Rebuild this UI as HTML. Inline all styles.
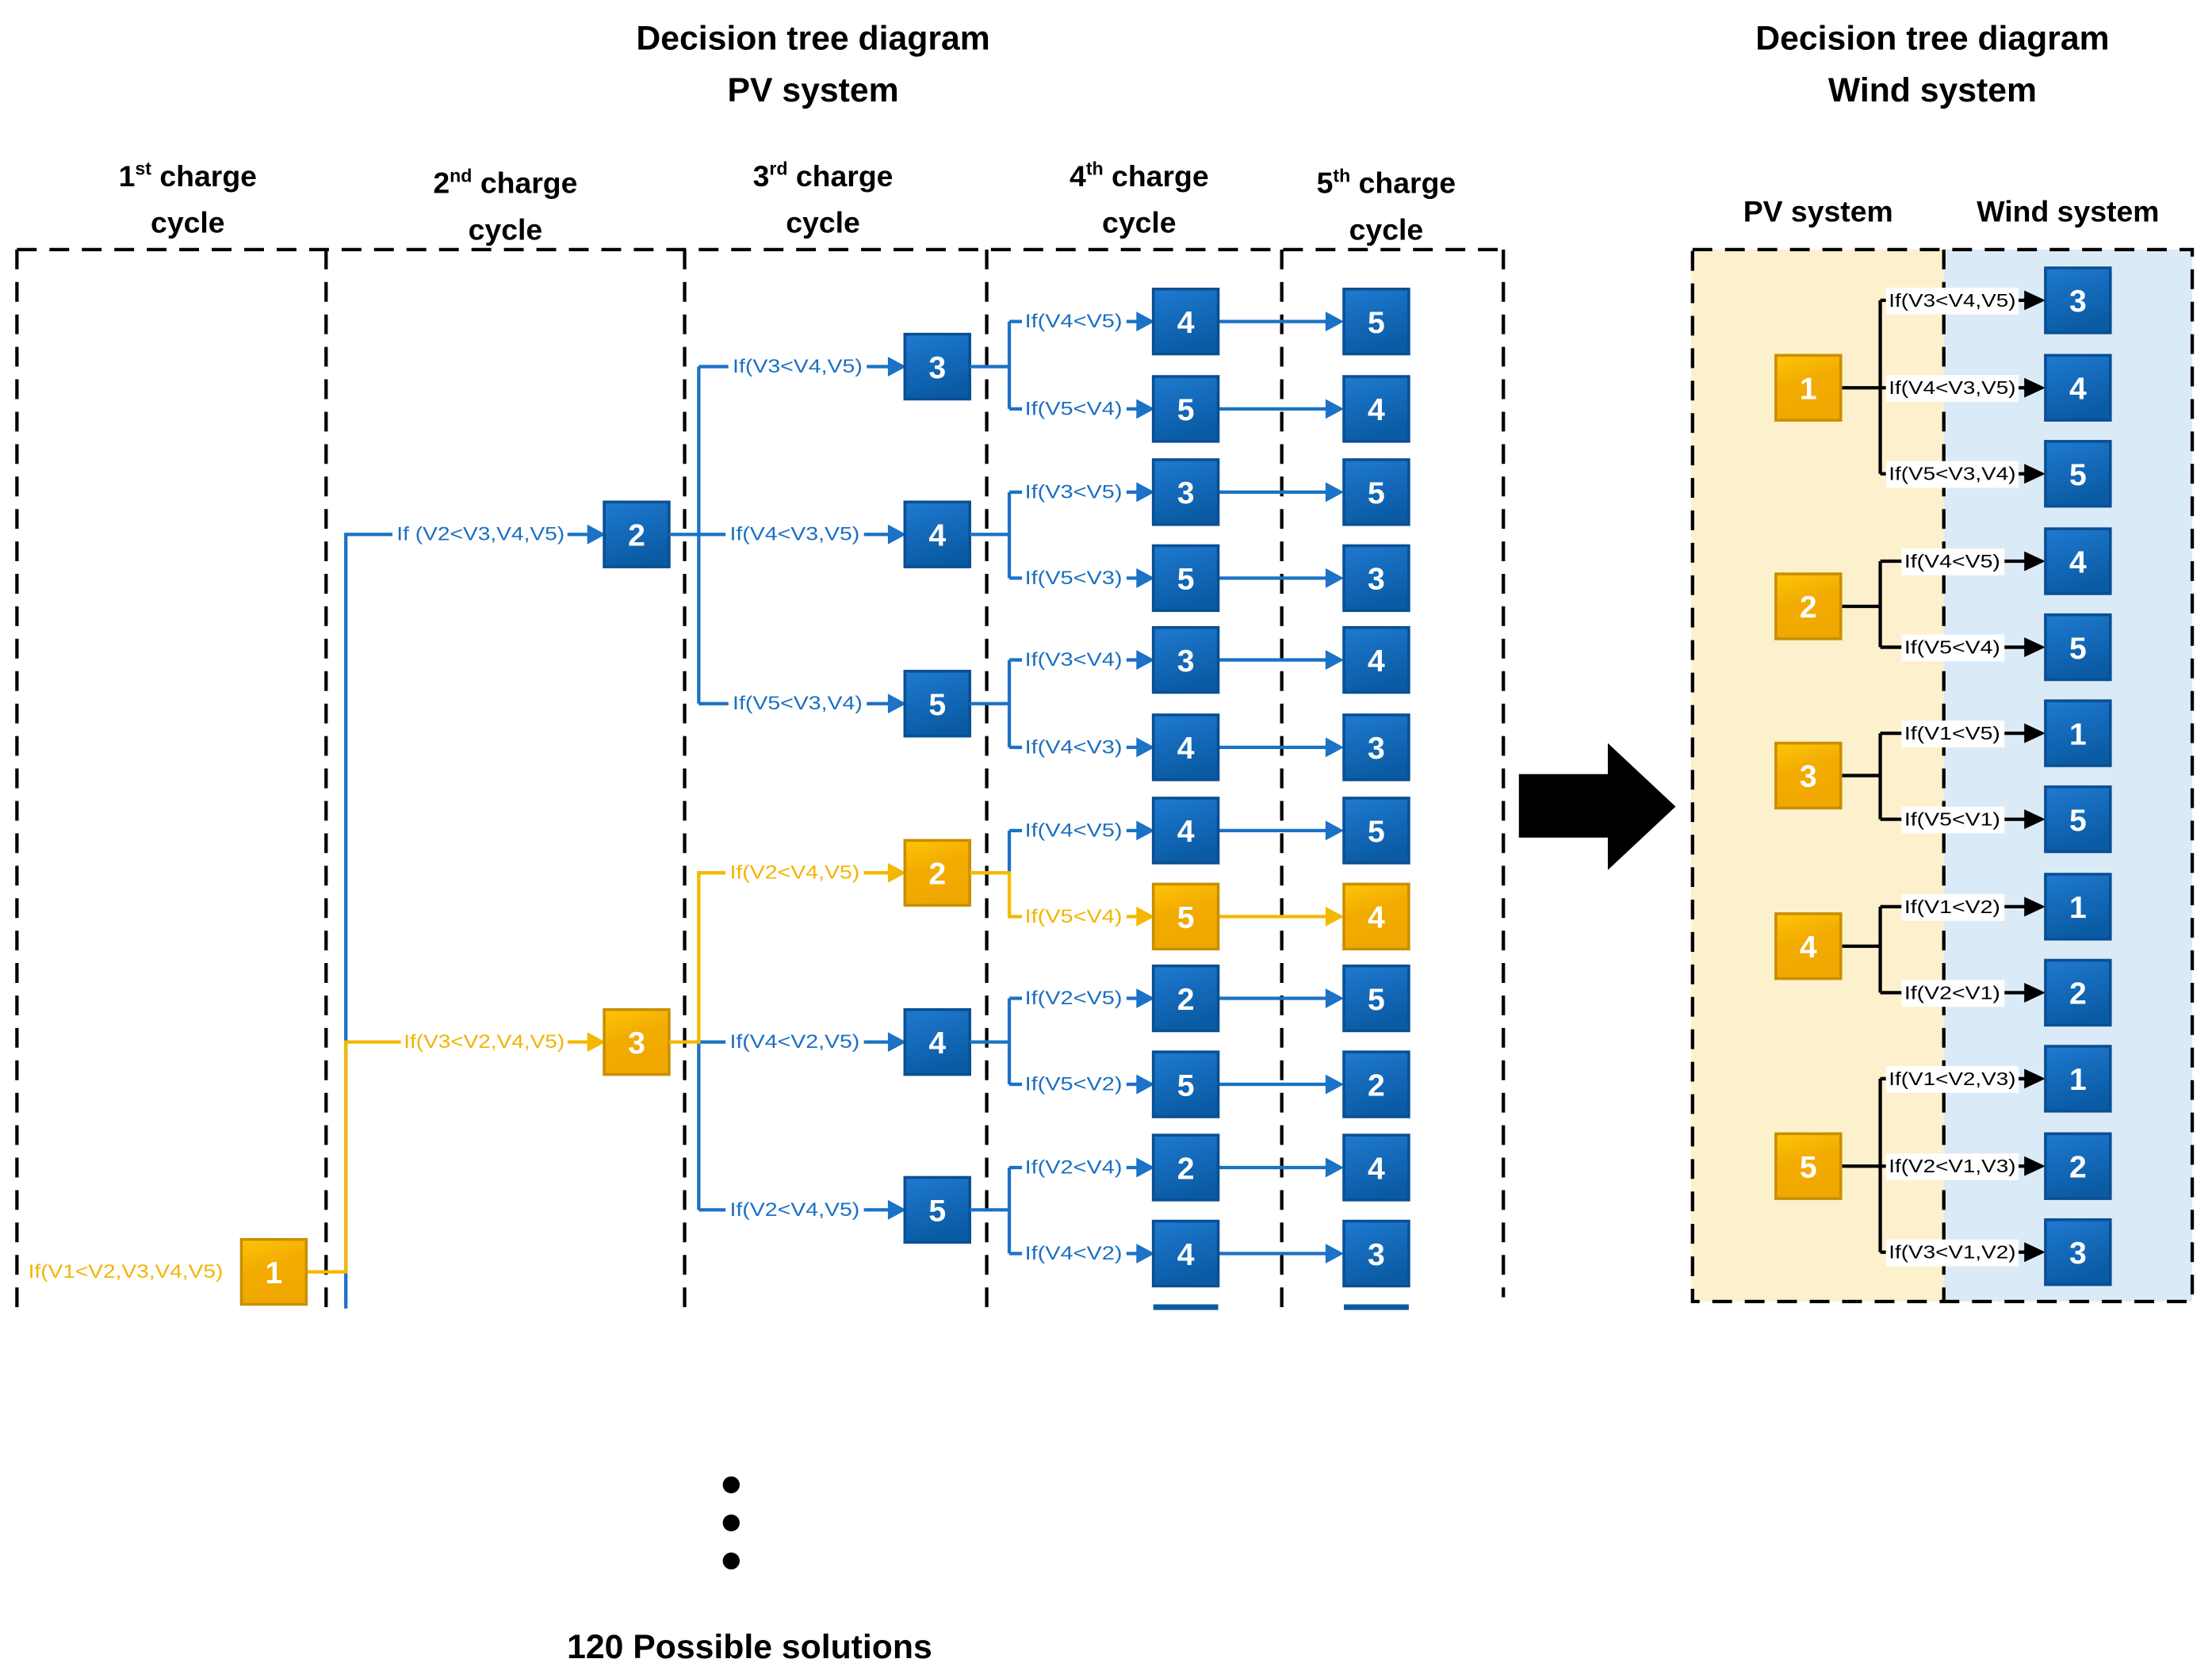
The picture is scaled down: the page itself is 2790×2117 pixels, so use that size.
<!DOCTYPE html>
<html><head><meta charset="utf-8"><style>
html,body{margin:0;padding:0;background:#fff;}
svg{display:block;}
text{font-family:"Liberation Sans",sans-serif;}
.t{font-weight:bold;font-size:24px;fill:#000;text-anchor:middle;}
.h{font-weight:bold;font-size:21px;fill:#000;text-anchor:middle;}
.n{font-weight:bold;font-size:22px;fill:#fff;text-anchor:middle;dominant-baseline:central;}
.lb{font-size:13.5px;fill:#1b6fc2;dominant-baseline:central;}
.lo{font-size:13.5px;fill:#f3b400;dominant-baseline:central;}
.lk{font-size:13px;fill:#000;dominant-baseline:central;}
.bl{stroke:#1b72c6;stroke-width:2.4;fill:none;}
.ol{stroke:#f5b800;stroke-width:2.4;fill:none;}
.kl{stroke:#000;stroke-width:2.4;fill:none;}
.d{stroke:#000;stroke-width:2.4;stroke-dasharray:14,9;fill:none;}
</style></head><body>
<svg width="2790" height="2117" viewBox="0 0 1567 1190" preserveAspectRatio="none" xmlns="http://www.w3.org/2000/svg">
<defs>
<linearGradient id="gb" x1="0" y1="0" x2="0.3" y2="1"><stop offset="0" stop-color="#1f7ad0"/><stop offset="1" stop-color="#0a5ba4"/></linearGradient>
<linearGradient id="go" x1="0" y1="0" x2="0.3" y2="1"><stop offset="0" stop-color="#ffc408"/><stop offset="0.5" stop-color="#f2ab00"/><stop offset="1" stop-color="#f0a800"/></linearGradient>
<g id="B"><rect x="0" y="0" width="46" height="46" fill="url(#gb)" stroke="#0a4f94" stroke-width="2"/></g>
<g id="O"><rect x="0" y="0" width="46" height="46" fill="url(#go)" stroke="#c88f00" stroke-width="2"/></g>
</defs>

<text class="t" x="576" y="35">Decision tree diagram</text>
<text class="t" x="576" y="72">PV system</text>
<text class="t" x="1369" y="35">Decision tree diagram</text>
<text class="t" x="1369" y="72">Wind system</text>

<text class="h" x="133" y="132">1<tspan font-size="13" dy="-8">st</tspan><tspan dy="8"> charge</tspan></text>
<text class="h" x="133" y="165">cycle</text>
<text class="h" x="358" y="137">2<tspan font-size="13" dy="-8">nd</tspan><tspan dy="8"> charge</tspan></text>
<text class="h" x="358" y="170">cycle</text>
<text class="h" x="583" y="132">3<tspan font-size="13" dy="-8">rd</tspan><tspan dy="8"> charge</tspan></text>
<text class="h" x="583" y="165">cycle</text>
<text class="h" x="807" y="132">4<tspan font-size="13" dy="-8">th</tspan><tspan dy="8"> charge</tspan></text>
<text class="h" x="807" y="165">cycle</text>
<text class="h" x="982" y="137">5<tspan font-size="13" dy="-8">th</tspan><tspan dy="8"> charge</tspan></text>
<text class="h" x="982" y="170">cycle</text>

<path class="d" d="M12,177 H1065"/>
<path class="d" d="M12,177 V928 M231,177 V928 M485,177 V928 M699,177 V928 M908,177 V928 M1065,177 V920"/>

<path class="bl" d="M245,928 V379 H422"/>
<path class="ol" d="M216,902 H245 V739 H422"/>
<polygon points="416,372 429,379 416,386" fill="#1b72c6"/>
<polygon points="416,732 429,739 416,746" fill="#f5b800"/>
<rect x="278" y="370" width="124" height="18" fill="#fff"/>
<text class="lb" x="281" y="379" textLength="119" lengthAdjust="spacingAndGlyphs">If (V2&lt;V3,V4,V5)</text>
<rect x="284" y="730" width="118" height="18" fill="#fff"/>
<text class="lo" x="286" y="739" textLength="114" lengthAdjust="spacingAndGlyphs">If(V3&lt;V2,V4,V5)</text>
<text class="lo" x="20" y="902" textLength="138" lengthAdjust="spacingAndGlyphs">If(V1&lt;V2,V3,V4,V5)</text>

<use href="#B" x="428" y="356"/><text class="n" x="451" y="380" font-weight="normal">2</text>
<use href="#O" x="428" y="716"/><text class="n" x="451" y="740" font-weight="normal">3</text>
<use href="#O" x="171" y="879"/><text class="n" x="194" y="903">1</text>

<path class="bl" d="M474,379 H495 M495,260 V499 M495,260 H635 M495,379 H635 M495,499 H635"/>
<polygon points="629,253 642,260 629,267" fill="#1b72c6"/>
<polygon points="629,372 642,379 629,386" fill="#1b72c6"/>
<polygon points="629,492 642,499 629,506" fill="#1b72c6"/>
<rect x="516" y="251" width="98" height="18" fill="#fff"/><text class="lb" x="519" y="260" textLength="92" lengthAdjust="spacingAndGlyphs">If(V3&lt;V4,V5)</text>
<rect x="514" y="370" width="98" height="18" fill="#fff"/><text class="lb" x="517" y="379" textLength="92" lengthAdjust="spacingAndGlyphs">If(V4&lt;V3,V5)</text>
<rect x="516" y="490" width="98" height="18" fill="#fff"/><text class="lb" x="519" y="499" textLength="92" lengthAdjust="spacingAndGlyphs">If(V5&lt;V3,V4)</text>

<path class="bl" d="M495,739 V858 M495,739 H635 M495,858 H635"/>
<path class="ol" d="M474,739 H495 V619 H635"/>
<polygon points="629,612 642,619 629,626" fill="#f5b800"/>
<polygon points="629,732 642,739 629,746" fill="#1b72c6"/>
<polygon points="629,851 642,858 629,865" fill="#1b72c6"/>
<rect x="514" y="610" width="98" height="18" fill="#fff"/><text class="lo" x="517" y="619" textLength="92" lengthAdjust="spacingAndGlyphs">If(V2&lt;V4,V5)</text>
<rect x="514" y="730" width="98" height="18" fill="#fff"/><text class="lb" x="517" y="739" textLength="92" lengthAdjust="spacingAndGlyphs">If(V4&lt;V2,V5)</text>
<rect x="514" y="849" width="98" height="18" fill="#fff"/><text class="lb" x="517" y="858" textLength="92" lengthAdjust="spacingAndGlyphs">If(V2&lt;V4,V5)</text>

<use href="#B" x="641" y="237"/><text class="n" x="664" y="261">3</text>
<use href="#B" x="641" y="356"/><text class="n" x="664" y="380">4</text>
<use href="#B" x="641" y="476"/><text class="n" x="664" y="500">5</text>
<use href="#O" x="641" y="596"/><text class="n" x="664" y="620">2</text>
<use href="#B" x="641" y="716"/><text class="n" x="664" y="740">4</text>
<use href="#B" x="641" y="835"/><text class="n" x="664" y="859">5</text>

<path class="bl" d="M687,260 H715 M715,228 V290
M687,379 H715 M715,349 V410
M687,499 H715 M715,468 V530
M715,589 V619
M687,739 H715 M715,708 V769
M687,858 H715 M715,828 V889
M715,228 H811 M715,290 H811 M715,349 H811 M715,410 H811 M715,468 H811 M715,530 H811 M715,589 H811 M715,708 H811 M715,769 H811 M715,828 H811 M715,889 H811"/>
<path class="ol" d="M687,619 H715 V650 H811"/>
<g fill="#1b72c6">
<polygon points="805,221 818,228 805,235"/><polygon points="805,283 818,290 805,297"/>
<polygon points="805,342 818,349 805,356"/><polygon points="805,403 818,410 805,417"/>
<polygon points="805,461 818,468 805,475"/><polygon points="805,523 818,530 805,537"/>
<polygon points="805,582 818,589 805,596"/>
<polygon points="805,701 818,708 805,715"/><polygon points="805,762 818,769 805,776"/>
<polygon points="805,821 818,828 805,835"/><polygon points="805,882 818,889 805,896"/>
</g>
<polygon points="805,643 818,650 805,657" fill="#f5b800"/>
<g fill="#fff">
<rect x="724" y="219" width="74" height="18"/><rect x="724" y="281" width="74" height="18"/>
<rect x="724" y="340" width="74" height="18"/><rect x="724" y="401" width="74" height="18"/>
<rect x="724" y="459" width="74" height="18"/><rect x="724" y="521" width="74" height="18"/>
<rect x="724" y="580" width="74" height="18"/><rect x="724" y="641" width="74" height="18"/>
<rect x="724" y="699" width="74" height="18"/><rect x="724" y="760" width="74" height="18"/>
<rect x="724" y="819" width="74" height="18"/><rect x="724" y="880" width="74" height="18"/>
</g>
<text class="lb" x="726" y="228" textLength="69" lengthAdjust="spacingAndGlyphs">If(V4&lt;V5)</text>
<text class="lb" x="726" y="290" textLength="69" lengthAdjust="spacingAndGlyphs">If(V5&lt;V4)</text>
<text class="lb" x="726" y="349" textLength="69" lengthAdjust="spacingAndGlyphs">If(V3&lt;V5)</text>
<text class="lb" x="726" y="410" textLength="69" lengthAdjust="spacingAndGlyphs">If(V5&lt;V3)</text>
<text class="lb" x="726" y="468" textLength="69" lengthAdjust="spacingAndGlyphs">If(V3&lt;V4)</text>
<text class="lb" x="726" y="530" textLength="69" lengthAdjust="spacingAndGlyphs">If(V4&lt;V3)</text>
<text class="lb" x="726" y="589" textLength="69" lengthAdjust="spacingAndGlyphs">If(V4&lt;V5)</text>
<text class="lo" x="726" y="650" textLength="69" lengthAdjust="spacingAndGlyphs">If(V5&lt;V4)</text>
<text class="lb" x="726" y="708" textLength="69" lengthAdjust="spacingAndGlyphs">If(V2&lt;V5)</text>
<text class="lb" x="726" y="769" textLength="69" lengthAdjust="spacingAndGlyphs">If(V5&lt;V2)</text>
<text class="lb" x="726" y="828" textLength="69" lengthAdjust="spacingAndGlyphs">If(V2&lt;V4)</text>
<text class="lb" x="726" y="889" textLength="69" lengthAdjust="spacingAndGlyphs">If(V4&lt;V2)</text>

<path class="bl" d="M862,228 H946 M862,290 H946 M862,349 H946 M862,410 H946 M862,468 H946 M862,530 H946 M862,589 H946 M862,708 H946 M862,769 H946 M862,828 H946 M862,889 H946"/>
<path class="ol" d="M862,650 H946"/>
<g fill="#1b72c6">
<polygon points="939,221 952,228 939,235"/><polygon points="939,283 952,290 939,297"/>
<polygon points="939,342 952,349 939,356"/><polygon points="939,403 952,410 939,417"/>
<polygon points="939,461 952,468 939,475"/><polygon points="939,523 952,530 939,537"/>
<polygon points="939,582 952,589 939,596"/>
<polygon points="939,701 952,708 939,715"/><polygon points="939,762 952,769 939,776"/>
<polygon points="939,821 952,828 939,835"/><polygon points="939,882 952,889 939,896"/>
</g>
<polygon points="939,643 952,650 939,657" fill="#f5b800"/>

<use href="#B" x="817" y="205"/><text class="n" x="840" y="229">4</text>
<use href="#B" x="817" y="267"/><text class="n" x="840" y="291">5</text>
<use href="#B" x="817" y="326"/><text class="n" x="840" y="350">3</text>
<use href="#B" x="817" y="387"/><text class="n" x="840" y="411">5</text>
<use href="#B" x="817" y="445"/><text class="n" x="840" y="469">3</text>
<use href="#B" x="817" y="507"/><text class="n" x="840" y="531">4</text>
<use href="#B" x="817" y="566"/><text class="n" x="840" y="590">4</text>
<use href="#O" x="817" y="627"/><text class="n" x="840" y="651">5</text>
<use href="#B" x="817" y="685"/><text class="n" x="840" y="709">2</text>
<use href="#B" x="817" y="746"/><text class="n" x="840" y="770">5</text>
<use href="#B" x="817" y="805"/><text class="n" x="840" y="829">2</text>
<use href="#B" x="817" y="866"/><text class="n" x="840" y="890">4</text>
<rect x="817" y="925" width="46" height="4" fill="#0a5ba4"/>
<use href="#B" x="952" y="205"/><text class="n" x="975" y="229">5</text>
<use href="#B" x="952" y="267"/><text class="n" x="975" y="291">4</text>
<use href="#B" x="952" y="326"/><text class="n" x="975" y="350">5</text>
<use href="#B" x="952" y="387"/><text class="n" x="975" y="411">3</text>
<use href="#B" x="952" y="445"/><text class="n" x="975" y="469">4</text>
<use href="#B" x="952" y="507"/><text class="n" x="975" y="531">3</text>
<use href="#B" x="952" y="566"/><text class="n" x="975" y="590">5</text>
<use href="#O" x="952" y="627"/><text class="n" x="975" y="651">4</text>
<use href="#B" x="952" y="685"/><text class="n" x="975" y="709">5</text>
<use href="#B" x="952" y="746"/><text class="n" x="975" y="770">2</text>
<use href="#B" x="952" y="805"/><text class="n" x="975" y="829">4</text>
<use href="#B" x="952" y="866"/><text class="n" x="975" y="890">3</text>
<rect x="952" y="925" width="46" height="4" fill="#0a5ba4"/>

<circle cx="518" cy="1053" r="6" fill="#000"/>
<circle cx="518" cy="1080" r="6" fill="#000"/>
<circle cx="518" cy="1107" r="6" fill="#000"/>
<text class="t" x="531" y="1176">120 Possible solutions</text>

<polygon points="1076,549 1139,549 1139,527 1187,572 1139,617 1139,594 1076,594" fill="#000"/>

<text class="h" x="1288" y="157">PV system</text>
<text class="h" x="1465" y="157">Wind system</text>
<rect x="1198" y="177" width="179" height="746" fill="#fdf0cc"/>
<rect x="1377" y="177" width="176" height="746" fill="#dbeaf7"/>
<path class="d" d="M1199,177 H1553 V923 H1199 Z M1377,177 V923"/>

<path class="kl" d="M1304,275 H1332 M1332,213 V336 M1332,213 H1442 M1332,275 H1442 M1332,336 H1442
M1304,430 H1332 M1332,398 V459 M1332,398 H1442 M1332,459 H1442
M1304,550 H1332 M1332,520 V581 M1332,520 H1442 M1332,581 H1442
M1304,671 H1332 M1332,643 V704 M1332,643 H1442 M1332,704 H1442
M1304,827 H1332 M1332,765 V888 M1332,765 H1442 M1332,827 H1442 M1332,888 H1442"/>
<g fill="#000">
<polygon points="1434,206 1449,213 1434,220"/><polygon points="1434,268 1449,275 1434,282"/><polygon points="1434,329 1449,336 1434,343"/>
<polygon points="1434,391 1449,398 1434,405"/><polygon points="1434,452 1449,459 1434,466"/>
<polygon points="1434,513 1449,520 1434,527"/><polygon points="1434,574 1449,581 1434,588"/>
<polygon points="1434,636 1449,643 1434,650"/><polygon points="1434,697 1449,704 1434,711"/>
<polygon points="1434,758 1449,765 1434,772"/><polygon points="1434,820 1449,827 1434,834"/><polygon points="1434,881 1449,888 1434,895"/>
</g>
<g fill="#fff">
<rect x="1336" y="204" width="94" height="19"/><rect x="1336" y="266" width="94" height="19"/><rect x="1336" y="327" width="94" height="19"/>
<rect x="1347" y="389" width="73" height="19"/><rect x="1347" y="450" width="73" height="19"/>
<rect x="1347" y="511" width="73" height="19"/><rect x="1347" y="572" width="73" height="19"/>
<rect x="1347" y="634" width="73" height="19"/><rect x="1347" y="695" width="73" height="19"/>
<rect x="1336" y="756" width="94" height="19"/><rect x="1336" y="818" width="94" height="19"/><rect x="1336" y="879" width="94" height="19"/>
</g>
<text class="lk" x="1338" y="213" textLength="90" lengthAdjust="spacingAndGlyphs">If(V3&lt;V4,V5)</text>
<text class="lk" x="1338" y="275" textLength="90" lengthAdjust="spacingAndGlyphs">If(V4&lt;V3,V5)</text>
<text class="lk" x="1338" y="336" textLength="90" lengthAdjust="spacingAndGlyphs">If(V5&lt;V3,V4)</text>
<text class="lk" x="1349" y="398" textLength="68" lengthAdjust="spacingAndGlyphs">If(V4&lt;V5)</text>
<text class="lk" x="1349" y="459" textLength="68" lengthAdjust="spacingAndGlyphs">If(V5&lt;V4)</text>
<text class="lk" x="1349" y="520" textLength="68" lengthAdjust="spacingAndGlyphs">If(V1&lt;V5)</text>
<text class="lk" x="1349" y="581" textLength="68" lengthAdjust="spacingAndGlyphs">If(V5&lt;V1)</text>
<text class="lk" x="1349" y="643" textLength="68" lengthAdjust="spacingAndGlyphs">If(V1&lt;V2)</text>
<text class="lk" x="1349" y="704" textLength="68" lengthAdjust="spacingAndGlyphs">If(V2&lt;V1)</text>
<text class="lk" x="1338" y="765" textLength="90" lengthAdjust="spacingAndGlyphs">If(V1&lt;V2,V3)</text>
<text class="lk" x="1338" y="827" textLength="90" lengthAdjust="spacingAndGlyphs">If(V2&lt;V1,V3)</text>
<text class="lk" x="1338" y="888" textLength="90" lengthAdjust="spacingAndGlyphs">If(V3&lt;V1,V2)</text>

<use href="#O" x="1258" y="252"/><text class="n" x="1281" y="276">1</text>
<use href="#O" x="1258" y="407"/><text class="n" x="1281" y="431">2</text>
<use href="#O" x="1258" y="527"/><text class="n" x="1281" y="551">3</text>
<use href="#O" x="1258" y="648"/><text class="n" x="1281" y="672">4</text>
<use href="#O" x="1258" y="804"/><text class="n" x="1281" y="828">5</text>

<use href="#B" x="1449" y="190"/><text class="n" x="1472" y="214">3</text>
<use href="#B" x="1449" y="252"/><text class="n" x="1472" y="276">4</text>
<use href="#B" x="1449" y="313"/><text class="n" x="1472" y="337">5</text>
<use href="#B" x="1449" y="375"/><text class="n" x="1472" y="399">4</text>
<use href="#B" x="1449" y="436"/><text class="n" x="1472" y="460">5</text>
<use href="#B" x="1449" y="497"/><text class="n" x="1472" y="521">1</text>
<use href="#B" x="1449" y="558"/><text class="n" x="1472" y="582">5</text>
<use href="#B" x="1449" y="620"/><text class="n" x="1472" y="644">1</text>
<use href="#B" x="1449" y="681"/><text class="n" x="1472" y="705">2</text>
<use href="#B" x="1449" y="742"/><text class="n" x="1472" y="766">1</text>
<use href="#B" x="1449" y="804"/><text class="n" x="1472" y="828">2</text>
<use href="#B" x="1449" y="865"/><text class="n" x="1472" y="889">3</text>
</svg>
</body></html>
